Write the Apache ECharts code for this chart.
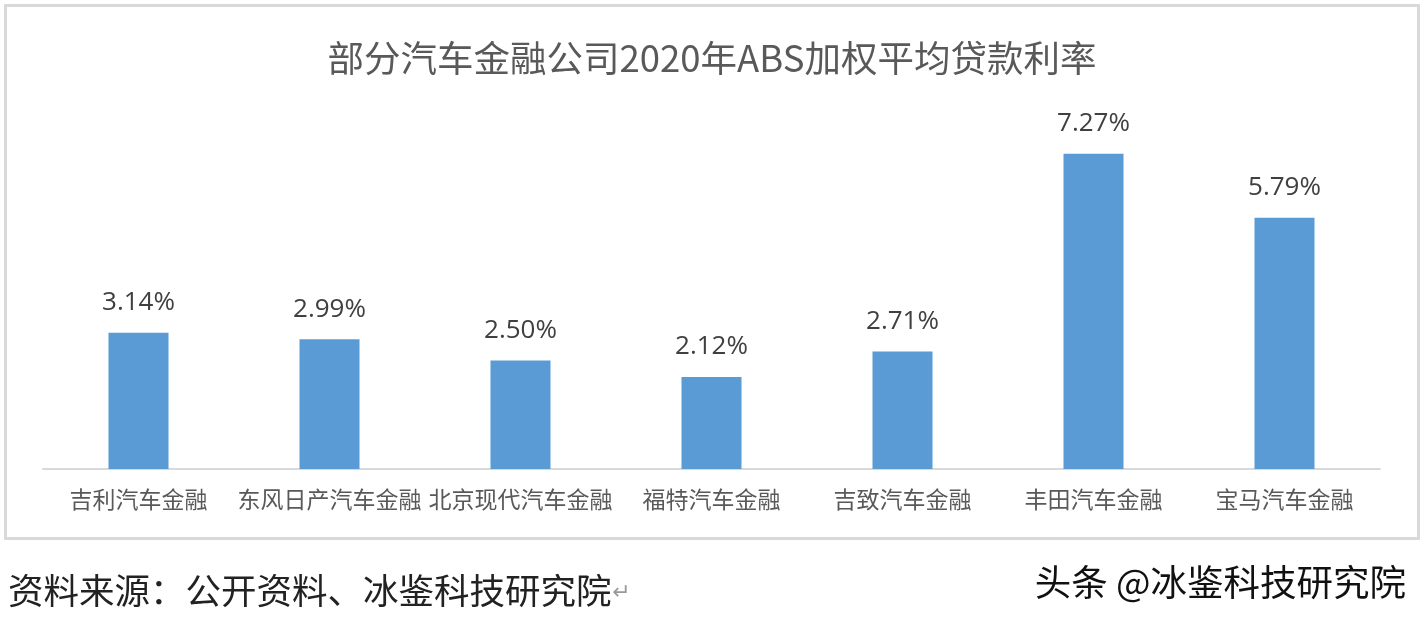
<!DOCTYPE html>
<html>
<head>
<meta charset="utf-8">
<script src="https://cdn.jsdelivr.net/npm/echarts@6/dist/echarts.min.js"></script>
<style>
html,body{margin:0;padding:0;background:#fff;}
#chart{width:1424px;height:625px;}
</style>
</head>
<body>
<div id="chart"></div>
<script>
const categories = ['吉利汽车金融','东风日产汽车金融','北京现代汽车金融','福特汽车金融','吉致汽车金融','丰田汽车金融','宝马汽车金融'];
const rates = [3.14, 2.99, 2.50, 2.12, 2.71, 7.27, 5.79];
const titleText = '部分汽车金融公司2020年ABS加权平均贷款利率';
const sourceText = '资料来源：公开资料、冰鉴科技研究院';
const watermarkText = '头条 @冰鉴科技研究院';

const chart = echarts.init(document.getElementById('chart'), null, {renderer:'canvas'});
chart.setOption({
  animation:false,
  backgroundColor:'#fff',
  title:{
    text:titleText,
    left:'center',
    top:35,
    textStyle:{fontFamily:'"Noto Sans CJK SC", sans-serif',fontSize:36.5,fontWeight:'normal',color:'#595959'}
  },
  grid:{left:43,right:44,top:122,bottom:156,containLabel:false},
  xAxis:{
    type:'category',
    data:categories,
    axisLine:{lineStyle:{color:'#d9d9d9',width:2}},
    axisTick:{show:false},
    axisLabel:{interval:0,margin:19,color:'#595959',fontSize:23,fontFamily:'"Noto Sans CJK SC", sans-serif'}
  },
  yAxis:{type:'value',min:0,max:8,show:false,splitLine:{show:false}},
  series:[{
    type:'bar',
    data:rates,
    barWidth:60,
    itemStyle:{color:'#5b9bd5'},
    label:{
      show:true,position:'top',distance:17,
      formatter:p=>p.value.toFixed(2)+'%',
      color:'#404040',fontSize:26,
      fontFamily:'"Open Sans",sans-serif'
    }
  }],
  graphic:[
    {type:'rect',shape:{x:5.5,y:5.5,width:1413,height:533},style:{fill:null,stroke:'#d9d9d9',lineWidth:3},silent:true,z:-1},
    {type:'text',left:8,top:573,style:{text:sourceText,fontSize:35.5,fill:'#222',fontFamily:'"Noto Sans CJK SC", sans-serif'}},
    {type:'text',left:612,top:582,style:{text:'↵',fontSize:22,fill:'#999',fontFamily:'"DejaVu Sans", sans-serif'}},
    {type:'text',right:18,top:564,style:{text:watermarkText,fontSize:36.5,fill:'#111',fontFamily:'"Noto Sans CJK SC", sans-serif',textShadowColor:'rgba(255,255,255,0.9)',textShadowBlur:2,textShadowOffsetX:1,textShadowOffsetY:1}}
  ]
});
</script>
</body>
</html>
